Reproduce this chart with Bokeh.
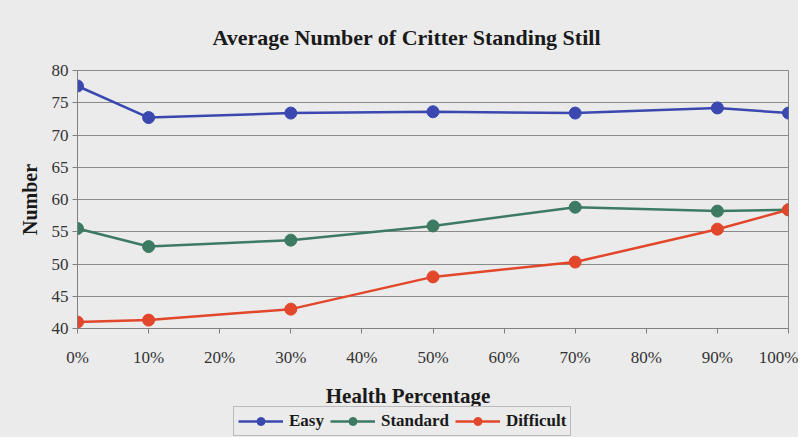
from bokeh.plotting import figure
from bokeh.layouts import column
from bokeh.models import Range1d, FixedTicker, Legend, LegendItem, Label
from bokeh.embed import file_html
from bokeh.resources import INLINE

# ---- data ----
health = [0, 10, 30, 50, 70, 90, 100]
easy = [77.6, 72.7, 73.4, 73.6, 73.4, 74.2, 73.4]
standard = [55.5, 52.7, 53.7, 55.9, 58.8, 58.2, 58.4]
difficult = [41.0, 41.3, 43.0, 48.0, 50.3, 55.4, 58.4]
series_names = ["Easy", "Standard", "Difficult"]
x_ticks = [0, 10, 20, 30, 40, 50, 60, 70, 80, 90, 100]
x_tick_labels = ["0%", "10%", "20%", "30%", "40%", "50%", "60%", "70%", "80%", "90%", "100%"]
y_ticks = [40, 45, 50, 55, 60, 65, 70, 75, 80]

colors = ["#3a48b0", "#3d7a63", "#e2462b"]
SERIF = "Liberation Serif"
BG = "#ebebeb"
W = 798
H1 = 375   # main chart canvas
H2 = 62    # strip with x-axis title and legend

p = figure(width=W, height=H1, output_backend="svg", toolbar_location=None,
           x_range=Range1d(0, 100), y_range=Range1d(40, 80),
           min_border_left=77, min_border_right=10, min_border_top=70,
           min_border_bottom=H1 - 328)

p.background_fill_color = BG
p.border_fill_color = BG
p.outline_line_color = "#8a8a8a"
p.outline_line_width = 1

p.title.text = "Average Number of Critter Standing Still"
p.title.text_font = SERIF
p.title.text_font_size = "22px"
p.title.text_font_style = "bold"
p.title.text_color = "#1a1a1a"
p.title.align = "left"
p.title.offset = 135
p.title.standoff = 42

# axes
p.xaxis.ticker = FixedTicker(ticks=x_ticks)
p.xaxis.major_label_overrides = {t: l for t, l in zip(x_ticks, x_tick_labels)}
p.yaxis.ticker = FixedTicker(ticks=y_ticks)
for ax in (p.xaxis, p.yaxis):
    ax.axis_line_color = "#808080"
    ax.major_tick_line_color = "#808080"
    ax.minor_tick_line_color = None
    ax.major_tick_out = 5
    ax.major_tick_in = 0
    ax.major_label_text_font = SERIF
    ax.major_label_text_font_size = "17px"
    ax.major_label_text_color = "#333333"
    ax.axis_label_text_font = SERIF
    ax.axis_label_text_font_size = "20px"
    ax.axis_label_text_font_style = "bold"
    ax.axis_label_text_color = "#1a1a1a"
p.yaxis.axis_label = "Number"
p.xaxis.major_label_standoff = 14
p.yaxis.major_label_standoff = 4
p.yaxis.axis_label_standoff = 8

p.xgrid.grid_line_color = None
p.ygrid.grid_line_color = "#8a8a8a"
p.ygrid.grid_line_width = 1

for ys, c in zip([easy, standard, difficult], colors):
    p.line(health, ys, line_color=c, line_width=2.5)
    p.scatter(health, ys, size=12, fill_color=c, line_color=c)

# ---- bottom strip: x-axis title + legend (own canvas, so nothing is clipped) ----
lg = figure(width=W, height=H2, output_backend="svg", toolbar_location=None,
            x_range=Range1d(0, W), y_range=Range1d(0, H2),
            x_axis_location=None, y_axis_location=None,
            min_border=0, min_border_left=0, min_border_right=0,
            min_border_top=0, min_border_bottom=0)
lg.background_fill_color = BG
lg.border_fill_color = BG
lg.outline_line_color = None
lg.grid.grid_line_color = None
lg.extra_x_ranges = {"off": Range1d(1000, 1001)}
lg.extra_y_ranges = {"off": Range1d(1000, 1001)}

lg.add_layout(Label(x=371, y=H2 - 20, text="Health Percentage", text_align="center",
                    text_baseline="middle", text_font=SERIF, text_font_size="21px",
                    text_font_style="bold", text_color="#1a1a1a"))

items = []
for name, ys, c in zip(series_names, [easy, standard, difficult], colors):
    r1 = lg.line(health, ys, line_color=c, line_width=2.5,
                 x_range_name="off", y_range_name="off")
    r2 = lg.scatter(health, ys, size=12, fill_color=c, line_color=c,
                    x_range_name="off", y_range_name="off")
    items.append(LegendItem(label=name, renderers=[r1, r2]))

legend = Legend(items=items, orientation="horizontal", location=(156, 1))
legend.label_text_font = SERIF
legend.label_text_font_size = "17px"
legend.label_text_font_style = "bold"
legend.label_text_color = "#1a1a1a"
legend.glyph_width = 45
legend.glyph_height = 20
legend.label_standoff = 6
legend.spacing = 6
legend.padding = 4
legend.margin = 0
legend.border_line_color = "#8a8a8a"
legend.border_line_width = 1
legend.background_fill_color = BG
legend.background_fill_alpha = 1
lg.add_layout(legend, "center")

layout = column(p, lg, spacing=0, styles={"background-color": BG})
open("out.html", "w").write(file_html(layout, INLINE))
